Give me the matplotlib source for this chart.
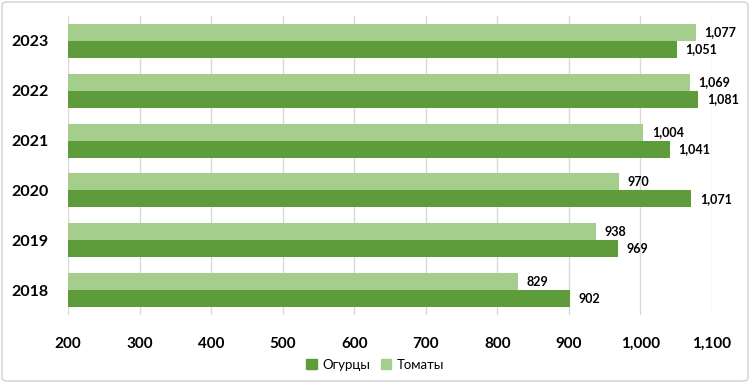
import matplotlib
matplotlib.use("Agg")
import matplotlib.pyplot as plt
import numpy as np
from matplotlib.patches import FancyBboxPatch, Patch

years = ["2018", "2019", "2020", "2021", "2022", "2023"]
cucumbers = [902, 969, 1071, 1041, 1081, 1051]
tomatoes = [829, 938, 970, 1004, 1069, 1077]
xticks = [200, 300, 400, 500, 600, 700, 800, 900, 1000, 1100]

dark = "#5e9b3b"
light = "#a5cd8c"

plt.rcParams['font.family'] = ['Lato', 'DejaVu Sans']

fig = plt.figure(figsize=(7.5, 3.83), dpi=100)
ax = fig.add_axes([68/750, 1-315/383, (712-68)/750, (315-16)/383])

y = np.arange(len(years))
h = 0.34
ax.barh(y + h/2, tomatoes, height=h, color=light, zorder=3)
ax.barh(y - h/2, cucumbers, height=h, color=dark, zorder=3)

for yi, v in zip(y, tomatoes):
    ax.text(v + 12, yi + h/2, f"{v:,}", va="center", ha="left", fontsize=9, fontweight="bold")
for yi, v in zip(y, cucumbers):
    ax.text(v + 12, yi - h/2, f"{v:,}", va="center", ha="left", fontsize=9, fontweight="bold")

ax.set_xlim(200, 1100)
ax.set_ylim(-0.5, 5.5)
ax.set_xticks(xticks)
ax.set_xticklabels([f"{t:,}" for t in xticks], fontsize=11, fontweight="bold")
ax.set_yticks(y)
ax.set_yticklabels(years, fontsize=11.5, fontweight="bold")
ax.tick_params(axis="x", length=0, pad=16)
ax.tick_params(axis="y", length=0, pad=14)
ax.grid(axis="x", color="#d9d9d9", linewidth=1, zorder=0)
for s in ax.spines.values():
    s.set_visible(False)

handles = [Patch(color=dark, label="Огурцы"), Patch(color=light, label="Томаты")]
fig.legend(handles=handles, loc="center", bbox_to_anchor=(0.5, 1-365/383), ncol=2,
           frameon=False, fontsize=9.5, handlelength=0.8, handleheight=0.8,
           handletextpad=0.4, columnspacing=0.8)

border = FancyBboxPatch((2/750, 2/383), 1-4/750, 1-4/383, boxstyle="round,pad=0,rounding_size=0.008",
                        transform=fig.transFigure, fill=False, edgecolor="#d0d0d0", linewidth=1)
fig.patches.append(border)

fig.savefig("out.png", dpi=100)
